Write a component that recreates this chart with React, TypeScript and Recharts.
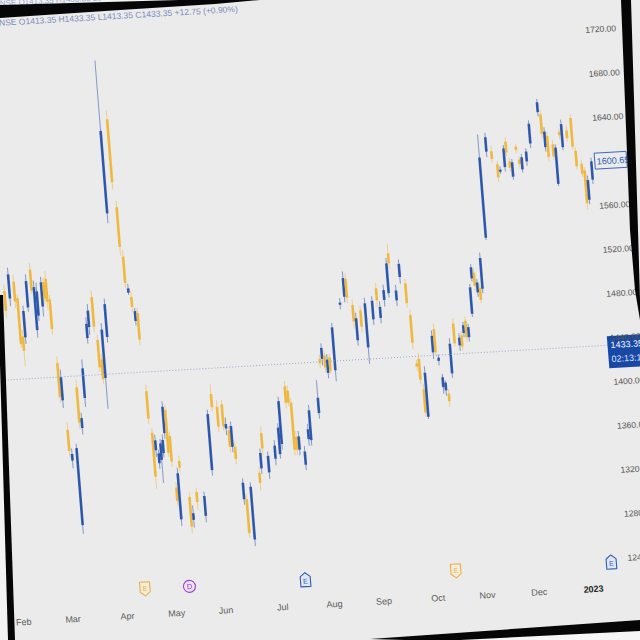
import React from 'react';
import { ComposedChart, Bar, XAxis, YAxis, ReferenceLine, ReferenceDot } from 'recharts';

// trading-day index (0 = late Jan 2022) and OHLC
const days = [
  3, 6, 8, 10, 11, 12, 13, 15, 17, 18, 19, 21, 22, 23, 24, 25, 26, 27, 28, 30,
  32, 33, 35, 38, 39, 41, 42, 43, 44, 46, 50, 53, 54, 55, 56, 57, 58, 59, 60, 61,
  62, 63, 64, 65, 66, 67, 68, 69, 70, 71, 74, 75, 77, 80, 84, 86, 88, 90, 91, 92,
  93, 94, 96, 97, 99, 103, 104, 105, 107, 110, 112, 113, 116, 117, 118, 119, 120, 122, 124, 125,
  129, 131, 132, 133, 134, 135, 137, 141, 143, 144, 146, 147, 149, 151, 154, 156, 157, 159, 161, 162,
  164, 166, 168, 169, 170, 171, 172, 173, 177, 178, 179, 180, 181, 182, 184, 186, 188, 189, 190, 191,
  192, 194, 195, 196, 197, 198, 199, 202, 205, 207, 209, 210, 212, 213, 214, 215, 217, 218, 219, 221,
  223, 227, 228, 229, 230, 232, 233, 235, 236, 238, 240, 241, 243, 244, 245, 247,
];
const opens = [
  1447, 1514, 1507, 1522, 1507, 1472, 1471, 1498, 1532, 1477, 1490, 1498, 1520, 1523, 1504, 1446, 1412, 1385, 1357, 1298,
  1423, 1386, 1413, 1467, 1477, 1504, 1465, 1447, 1430, 1467, 1579, 1664, 1584, 1539, 1506, 1502, 1480, 1487, 1416, 1378,
  1362, 1350, 1353, 1359, 1377, 1398, 1374, 1327, 1298, 1351, 1318, 1297, 1322, 1300, 1341, 1410, 1398, 1400, 1378, 1376,
  1361, 1361, 1313, 1313, 1276, 1336, 1340, 1372, 1336, 1348, 1352, 1361, 1413, 1409, 1398, 1367, 1355, 1341, 1364, 1363,
  1387, 1436, 1436, 1439, 1423, 1437, 1425, 1484, 1491, 1507, 1483, 1451, 1478, 1444, 1469, 1497, 1470, 1486, 1492, 1528,
  1485, 1506, 1500, 1471, 1427, 1431, 1403, 1378, 1436, 1457, 1428, 1404, 1401, 1398, 1416, 1461, 1441, 1450, 1452, 1463,
  1448, 1469, 1501, 1506, 1488, 1492, 1491, 1537, 1615, 1615, 1603, 1596, 1600, 1623, 1605, 1591, 1618, 1606, 1597, 1604,
  1620, 1648, 1646, 1616, 1626, 1618, 1582, 1629, 1615, 1630, 1641, 1611, 1599, 1593, 1566, 1584,
];
const highs = [
  1490, 1520, 1535, 1528, 1510, 1478, 1500, 1528, 1538, 1522, 1520, 1525, 1524, 1530, 1508, 1452, 1440, 1392, 1368, 1372,
  1430, 1400, 1448, 1486, 1498, 1510, 1470, 1452, 1480, 1502, 1718, 1672, 1590, 1545, 1514, 1508, 1492, 1492, 1422, 1382,
  1376, 1362, 1372, 1376, 1406, 1403, 1378, 1332, 1345, 1356, 1322, 1310, 1326, 1322, 1396, 1419, 1404, 1404, 1388, 1380,
  1384, 1366, 1332, 1318, 1328, 1342, 1358, 1378, 1355, 1365, 1380, 1404, 1418, 1414, 1402, 1372, 1372, 1358, 1378, 1395,
  1417, 1440, 1450, 1443, 1440, 1440, 1468, 1490, 1514, 1512, 1488, 1476, 1482, 1489, 1490, 1502, 1485, 1500, 1524, 1537,
  1499, 1522, 1504, 1476, 1430, 1436, 1408, 1424, 1456, 1462, 1434, 1416, 1410, 1402, 1448, 1466, 1452, 1454, 1462, 1467,
  1460, 1496, 1514, 1510, 1500, 1496, 1524, 1631, 1632, 1620, 1606, 1601, 1620, 1627, 1608, 1607, 1620, 1609, 1611, 1616,
  1641, 1660, 1650, 1634, 1630, 1622, 1618, 1632, 1640, 1634, 1645, 1614, 1602, 1596, 1588, 1604,
];
const lows = [
  1440, 1490, 1500, 1498, 1462, 1445, 1465, 1494, 1510, 1470, 1485, 1489, 1500, 1495, 1472, 1410, 1405, 1360, 1350, 1290,
  1385, 1380, 1405, 1462, 1470, 1472, 1436, 1425, 1402, 1462, 1570, 1600, 1540, 1510, 1504, 1488, 1476, 1458, 1386, 1327,
  1356, 1345, 1332, 1355, 1372, 1355, 1346, 1310, 1292, 1340, 1285, 1290, 1306, 1294, 1336, 1394, 1375, 1376, 1372, 1356,
  1356, 1345, 1308, 1278, 1270, 1320, 1335, 1352, 1330, 1342, 1348, 1356, 1393, 1395, 1350, 1350, 1350, 1336, 1358, 1358,
  1382, 1428, 1430, 1424, 1418, 1422, 1415, 1480, 1486, 1485, 1462, 1446, 1458, 1429, 1464, 1480, 1465, 1480, 1488, 1514,
  1480, 1500, 1478, 1440, 1420, 1408, 1378, 1376, 1430, 1432, 1424, 1398, 1396, 1386, 1412, 1440, 1436, 1436, 1448, 1444,
  1444, 1466, 1498, 1490, 1484, 1478, 1487, 1535, 1610, 1605, 1587, 1594, 1596, 1610, 1596, 1588, 1612, 1598, 1594, 1600,
  1616, 1644, 1624, 1612, 1603, 1604, 1580, 1622, 1612, 1620, 1612, 1594, 1587, 1557, 1562, 1580,
];
const closes = [
  1480, 1496, 1529, 1504, 1465, 1459, 1495, 1522, 1513, 1516, 1512, 1520, 1505, 1502, 1477, 1415, 1433, 1366, 1363, 1368,
  1391, 1395, 1440, 1480, 1492, 1477, 1440, 1429, 1474, 1497, 1654, 1607, 1548, 1515, 1510, 1493, 1489, 1463, 1391, 1338,
  1371, 1359, 1368, 1371, 1401, 1359, 1351, 1315, 1340, 1345, 1291, 1303, 1313, 1318, 1392, 1398, 1380, 1380, 1382, 1361,
  1380, 1350, 1328, 1282, 1324, 1327, 1354, 1358, 1351, 1360, 1376, 1400, 1398, 1398, 1355, 1355, 1367, 1353, 1373, 1390,
  1401, 1432, 1446, 1428, 1435, 1425, 1464, 1486, 1508, 1490, 1468, 1471, 1463, 1484, 1486, 1486, 1480, 1495, 1519, 1519,
  1494, 1518, 1482, 1446, 1424, 1412, 1382, 1418, 1451, 1436, 1431, 1413, 1408, 1391, 1443, 1443, 1448, 1440, 1459, 1448,
  1457, 1493, 1511, 1494, 1497, 1481, 1519, 1610, 1628, 1608, 1591, 1598, 1617, 1613, 1599, 1604, 1615, 1602, 1608, 1613,
  1638, 1657, 1628, 1630, 1607, 1607, 1615, 1626, 1636, 1623, 1615, 1597, 1590, 1563, 1584, 1600.65,
];

const LAST_DAY = 247;
const monthTicks = [3, 23, 45, 65, 85, 108, 129, 149, 171, 191, 212, 234];
const monthLabels = ['Feb', 'Mar', 'Apr', 'May', 'Jun', 'Jul', 'Aug', 'Sep', 'Oct', 'Nov', 'Dec', '2023'];
const priceTicks = [1240, 1280, 1320, 1360, 1400, 1440, 1480, 1520, 1560, 1640, 1680, 1720];
const lastPrice = 1600.65;
const livePrice = 1433.35;
const countdown = '02:13:19';
const eventDays = [53, 71, 118, 179, 242];
const eventKinds = ['E', 'D', 'E', 'E', 'E'];
const eventTones = ['past', 'div', 'future', 'past', 'future'];
const headerText = 'NSE  O1413.35  H1433.35  L1413.35  C1433.35  +12.75 (+0.90%)';

const BLUE = '#1f4ca6';
const GOLD = '#efb432';
const BG = '#ebebeb';
const FONT = '"Liberation Sans", Arial, sans-serif';
const MARKER_PRICE = 1237;

const rows = Array.from({ length: LAST_DAY + 1 }, (_, d) => ({ d, o: null, h: null, l: null, c: null, range: null } as any));
days.forEach((d, i) => {
  rows[d] = { d, o: opens[i], h: highs[i], l: lows[i], c: closes[i], range: [lows[i], highs[i]] };
});

function Candle(props: any) {
  const { x, y, width, height, payload } = props;
  if (!payload || payload.o == null || !isFinite(y) || !isFinite(height)) return null;
  const { o, h, l, c } = payload;
  const color = c >= o ? BLUE : GOLD;
  const top = height < 0 ? y + height : y;
  const full = Math.abs(height);
  const k = h > l ? full / (h - l) : 0;
  const bodyTop = top + (h - Math.max(o, c)) * k;
  const bodyH = Math.max(1, Math.abs(c - o) * k);
  const cx = x + width / 2;
  return (
    <g>
      <line x1={cx} x2={cx} y1={top} y2={top + full} stroke={color} strokeWidth={0.9} opacity={0.55} />
      <rect x={cx - 1.3} y={bodyTop} width={2.6} height={bodyH} fill={color} opacity={0.9} />
    </g>
  );
}

function MonthTick(props: any) {
  const { x, y, payload } = props;
  const label = monthLabels[monthTicks.indexOf(payload.value)];
  const bold = label === '2023';
  return (
    <text x={x} y={y} dy="0.71em" textAnchor="middle" fontFamily={FONT} fontSize={9}
      fontWeight={bold ? 700 : 400} fill={bold ? '#222' : '#5b5b5b'}>
      {label}
    </text>
  );
}

function LiveTag(props: any) {
  const vb = props.viewBox || {};
  const x = vb.x + vb.width + 0;
  const y = vb.y;
  return (
    <g>
      <rect x={x} y={y - 9} width={38} height={32} fill="#1848a6" />
      <text x={x + 3} y={y + 3} fontFamily={FONT} fontSize={9} fill="#fff">{livePrice.toFixed(2)}</text>
      <text x={x + 3} y={y + 17} fontFamily={FONT} fontSize={9} fill="#dfe6f6">{countdown}</text>
    </g>
  );
}

function LastTag(props: any) {
  const vb = props.viewBox || {};
  const x = vb.x + vb.width + 2;
  const y = vb.y;
  return (
    <g>
      <rect x={x} y={y - 8} width={32} height={16} fill={BG} stroke="#2f5db6" strokeWidth={0.9} />
      <text x={x + 2} y={y + 3.5} fontFamily={FONT} fontSize={9} fill="#2f5db6">{lastPrice.toFixed(2)}</text>
    </g>
  );
}

function EventBadge(kind: string, tone: string) {
  return (props: any) => {
    const { cx, cy } = props;
    if (tone === 'div') {
      return (
        <g>
          <circle cx={cx} cy={cy} r={6} fill="#f0e4f7" stroke="#9a3fd1" strokeWidth={1.1} />
          <text x={cx} y={cy + 2.8} textAnchor="middle" fontFamily={FONT} fontSize={7.5} fill="#9a3fd1">{kind}</text>
        </g>
      );
    }
    const stroke = tone === 'past' ? '#e6b04c' : '#2f5db6';
    const fill = tone === 'past' ? '#f5ecd8' : '#e1e7f4';
    const d = tone === 'past'
      ? `M${cx - 5},${cy - 7} L${cx + 5},${cy - 7} L${cx + 5},${cy + 3} L${cx},${cy + 7} L${cx - 5},${cy + 3} Z`
      : `M${cx},${cy - 7} L${cx + 5},${cy - 3} L${cx + 5},${cy + 7} L${cx - 5},${cy + 7} L${cx - 5},${cy - 3} Z`;
    return (
      <g>
        <path d={d} fill={fill} stroke={stroke} strokeWidth={1.1} strokeLinejoin="round" />
        <text x={cx} y={cy + (tone === 'past' ? 2 : 4)} textAnchor="middle" fontFamily={FONT} fontSize={7} fill={stroke}>{kind}</text>
      </g>
    );
  };
}

export default function App() {
  return (
    <div style={{ position: 'fixed', left: 0, top: 0, width: 640, height: 640, overflow: 'hidden', background: '#f3f3f3' }}>
      {/* the photographed screen: slightly rotated and skewed */}
      <div style={{ position: 'absolute', left: 0, top: 0, width: 0, height: 0, transformOrigin: '0 0',
        transform: 'matrix(0.998, -0.0578, 0.08, 0.996, -25.2, 20.2)' }}>
        <div style={{ position: 'absolute', left: -80, top: -6, width: 800, height: 760, background: BG }} />
        <div style={{ position: 'absolute', left: 24, top: -1, whiteSpace: 'nowrap', fontFamily: FONT, fontSize: 8.5,
          color: '#4a62a8', opacity: 0.7 }}>{headerText}</div>
        <div style={{ position: 'absolute', left: -8, top: 0 }}>
          <ComposedChart width={653} height={620} data={rows} barCategoryGap={0}
            margin={{ top: 0, right: 0, bottom: 0, left: 0 }} style={{ overflow: 'visible' }}>
            <XAxis dataKey="d" type="category" ticks={monthTicks} interval={0} height={30}
              axisLine={false} tickLine={false} tickSize={0} tickMargin={11} tick={<MonthTick />} />
            <YAxis orientation="right" type="number" domain={[1226.34, 1760.76]} allowDataOverflow
              ticks={priceTicks} width={40} axisLine={false} tickLine={false} tickSize={0} tickMargin={3}
              tick={{ fontFamily: FONT, fontSize: 8.6, fill: '#555', textAnchor: 'start' }}
              tickFormatter={(v: number) => v.toFixed(2)} />
            <Bar dataKey="range" shape={<Candle />} isAnimationActive={false} />
            <ReferenceLine y={livePrice} stroke="#9aa7c9" strokeWidth={1} strokeDasharray="1 2"
              ifOverflow="visible" label={<LiveTag />} />
            <ReferenceLine y={lastPrice} stroke="none" ifOverflow="visible" label={<LastTag />} />
            {eventDays.map((d, i) => (
              <ReferenceDot key={i} x={d} y={MARKER_PRICE} r={6} ifOverflow="visible"
                shape={EventBadge(eventKinds[i], eventTones[i])} />
            ))}
          </ComposedChart>
        </div>
      </div>
      {/* bezel edges and the world outside the screen */}
      <svg width={640} height={640} style={{ position: 'absolute', left: 0, top: 0, pointerEvents: 'none' }}>
        <polygon points="0,0 260,0 0,8" fill="#f3f3f3" />
        <text x={0} y={6} fontFamily={FONT} fontSize={8} fill="#4a62a8" opacity={0.55}
          transform="rotate(-3.2 0 6)">{headerText}</text>
        <polygon points="0,5 0,18 120,10 215,4 260,0 215,-1" fill="#060606" />
        <polygon points="0,300 -2,300 8,640 0,640" fill="#f3f3f3" />
        <polygon points="-2,295 3,295 15,640 8,640" fill="#060606" />
        <polygon points="370,641 640,630 640,640 370,640" fill="#f6f6f6" />
        <polygon points="370,639 640,620 640,631 440,641" fill="#060606" />
        <polygon points="621,0 631,0 638,230 640,300 640,320 635,290 630,230" fill="#060606" />
      </svg>
    </div>
  );
}
